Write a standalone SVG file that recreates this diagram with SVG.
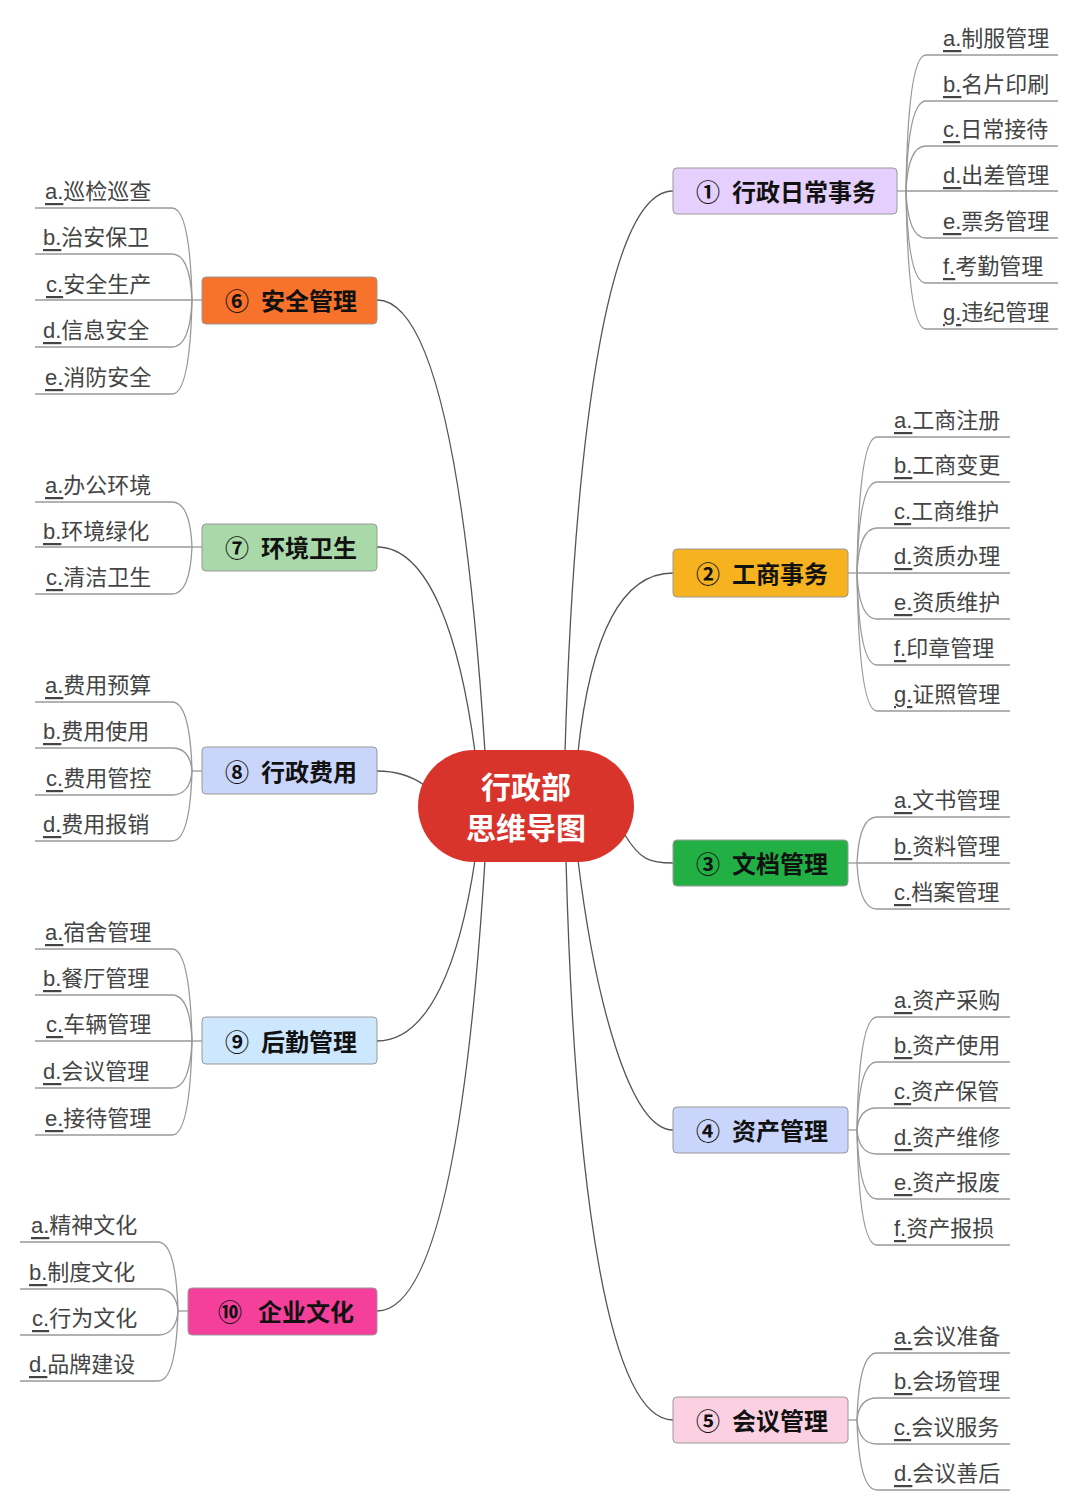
<svg xmlns="http://www.w3.org/2000/svg" width="1080" height="1509" viewBox="0 0 1080 1509">
<style>
.leaf{font-family:"Liberation Sans","Noto Sans CJK SC",sans-serif;font-size:22px;fill:#444;dominant-baseline:central}
.lt{text-decoration:underline}
.nt{font-family:"Liberation Sans","Noto Sans CJK SC",sans-serif;font-size:24px;font-weight:bold;fill:#111;text-anchor:middle;dominant-baseline:central}
.box{stroke:#999;stroke-width:1}
.c{fill:none;stroke:#555;stroke-width:1.3}
.l{fill:none;stroke:#999;stroke-width:1.3}
</style>
<rect width="1080" height="1509" fill="#fff"/>
<g id="connectors">
<path class="c" d="M565,752 C575,420 610,191 673,191"/>
<path class="c" d="M578,752 C590,640 620,573 673,573"/>
<path class="c" d="M625,835 C640,860 650,863 673,863"/>
<path class="c" d="M578,860 C595,1000 630,1130 673,1130"/>
<path class="c" d="M566,860 C575,1200 610,1420 673,1420"/>
<path class="c" d="M485,752 C470,520 440,300 377,300"/>
<path class="c" d="M475,752 C460,640 430,547 377,547"/>
<path class="c" d="M424,785 C410,775 395,771 377,771"/>
<path class="c" d="M475,860 C460,960 430,1041 377,1041"/>
<path class="c" d="M485,860 C470,1100 440,1311 377,1311"/>
<path class="l" d="M897,191 H906"/>
<path class="l" d="M906,191 Q908,55 926,55 H1058"/>
<path class="l" d="M906,191 Q908,101 926,101 H1058"/>
<path class="l" d="M906,191 Q908,146 926,146 H1058"/>
<path class="l" d="M906,191 H1058"/>
<path class="l" d="M906,191 Q908,238 926,238 H1058"/>
<path class="l" d="M906,191 Q908,283 926,283 H1058"/>
<path class="l" d="M906,191 Q908,329 926,329 H1058"/>
<path class="l" d="M848,573 H857"/>
<path class="l" d="M857,573 Q859,437 877,437 H1010"/>
<path class="l" d="M857,573 Q859,482 877,482 H1010"/>
<path class="l" d="M857,573 Q859,528 877,528 H1010"/>
<path class="l" d="M857,573 H1010"/>
<path class="l" d="M857,573 Q859,619 877,619 H1010"/>
<path class="l" d="M857,573 Q859,665 877,665 H1010"/>
<path class="l" d="M857,573 Q859,711 877,711 H1010"/>
<path class="l" d="M848,863 H857"/>
<path class="l" d="M857,863 Q859,817 877,817 H1010"/>
<path class="l" d="M857,863 H1010"/>
<path class="l" d="M857,863 Q859,909 877,909 H1010"/>
<path class="l" d="M848,1130 H857"/>
<path class="l" d="M857,1130 Q859,1017 877,1017 H1010"/>
<path class="l" d="M857,1130 Q859,1062 877,1062 H1010"/>
<path class="l" d="M857,1130 Q859,1108 877,1108 H1010"/>
<path class="l" d="M857,1130 Q859,1154 877,1154 H1010"/>
<path class="l" d="M857,1130 Q859,1199 877,1199 H1010"/>
<path class="l" d="M857,1130 Q859,1245 877,1245 H1010"/>
<path class="l" d="M848,1420 H857"/>
<path class="l" d="M857,1420 Q859,1353 877,1353 H1010"/>
<path class="l" d="M857,1420 Q859,1398 877,1398 H1010"/>
<path class="l" d="M857,1420 Q859,1444 877,1444 H1010"/>
<path class="l" d="M857,1420 Q859,1490 877,1490 H1010"/>
<path class="l" d="M202,300 H192"/>
<path class="l" d="M192,300 Q190,208 172,208 H35"/>
<path class="l" d="M192,300 Q190,254 172,254 H35"/>
<path class="l" d="M192,300 H35"/>
<path class="l" d="M192,300 Q190,347 172,347 H35"/>
<path class="l" d="M192,300 Q190,394 172,394 H35"/>
<path class="l" d="M202,547 H192"/>
<path class="l" d="M192,547 Q190,502 172,502 H35"/>
<path class="l" d="M192,547 H35"/>
<path class="l" d="M192,547 Q190,594 172,594 H35"/>
<path class="l" d="M202,771 H192"/>
<path class="l" d="M192,771 Q190,702 172,702 H35"/>
<path class="l" d="M192,771 Q190,748 172,748 H35"/>
<path class="l" d="M192,771 Q190,795 172,795 H35"/>
<path class="l" d="M192,771 Q190,841 172,841 H35"/>
<path class="l" d="M202,1041 H192"/>
<path class="l" d="M192,1041 Q190,949 172,949 H35"/>
<path class="l" d="M192,1041 Q190,995 172,995 H35"/>
<path class="l" d="M192,1041 H35"/>
<path class="l" d="M192,1041 Q190,1088 172,1088 H35"/>
<path class="l" d="M192,1041 Q190,1135 172,1135 H35"/>
<path class="l" d="M188,1311 H178"/>
<path class="l" d="M178,1311 Q176,1242 158,1242 H20"/>
<path class="l" d="M178,1311 Q176,1289 158,1289 H20"/>
<path class="l" d="M178,1311 Q176,1335 158,1335 H20"/>
<path class="l" d="M178,1311 Q176,1381 158,1381 H20"/>
</g>
<g id="center">
<rect x="418" y="750" width="216" height="112" rx="56" fill="#d9342b"/>
<text x="526" y="787" class="nt" style="fill:#fff;font-size:30px">行政部</text>
<text x="526" y="828" class="nt" style="fill:#fff;font-size:30px">思维导图</text>
</g>
<g id="n1"><rect class="box" x="673" y="168" width="224" height="46" rx="4" fill="#e5cffc"/><text class="nt" x="786" y="192">①<tspan dx="12">行政日常事务</tspan></text>
<text class="leaf" x="943" y="38"><tspan class="lt">a.</tspan>制服管理</text>
<text class="leaf" x="943" y="84"><tspan class="lt">b.</tspan>名片印刷</text>
<text class="leaf" x="943" y="129"><tspan class="lt">c.</tspan>日常接待</text>
<text class="leaf" x="943" y="175"><tspan class="lt">d.</tspan>出差管理</text>
<text class="leaf" x="943" y="221"><tspan class="lt">e.</tspan>票务管理</text>
<text class="leaf" x="943" y="266"><tspan class="lt">f.</tspan>考勤管理</text>
<text class="leaf" x="943" y="312"><tspan class="lt">g.</tspan>违纪管理</text></g>
<g id="n2"><rect class="box" x="673" y="549" width="175" height="48" rx="4" fill="#f6b21f"/><text class="nt" x="762" y="574">②<tspan dx="12">工商事务</tspan></text>
<text class="leaf" x="894" y="420"><tspan class="lt">a.</tspan>工商注册</text>
<text class="leaf" x="894" y="465"><tspan class="lt">b.</tspan>工商变更</text>
<text class="leaf" x="894" y="511"><tspan class="lt">c.</tspan>工商维护</text>
<text class="leaf" x="894" y="556"><tspan class="lt">d.</tspan>资质办理</text>
<text class="leaf" x="894" y="602"><tspan class="lt">e.</tspan>资质维护</text>
<text class="leaf" x="894" y="648"><tspan class="lt">f.</tspan>印章管理</text>
<text class="leaf" x="894" y="694"><tspan class="lt">g.</tspan>证照管理</text></g>
<g id="n3"><rect class="box" x="673" y="840" width="175" height="46" rx="4" fill="#22b044"/><text class="nt" x="762" y="864">③<tspan dx="12">文档管理</tspan></text>
<text class="leaf" x="894" y="800"><tspan class="lt">a.</tspan>文书管理</text>
<text class="leaf" x="894" y="846"><tspan class="lt">b.</tspan>资料管理</text>
<text class="leaf" x="894" y="892"><tspan class="lt">c.</tspan>档案管理</text></g>
<g id="n4"><rect class="box" x="673" y="1107" width="175" height="46" rx="4" fill="#cad5fb"/><text class="nt" x="762" y="1131">④<tspan dx="12">资产管理</tspan></text>
<text class="leaf" x="894" y="1000"><tspan class="lt">a.</tspan>资产采购</text>
<text class="leaf" x="894" y="1045"><tspan class="lt">b.</tspan>资产使用</text>
<text class="leaf" x="894" y="1091"><tspan class="lt">c.</tspan>资产保管</text>
<text class="leaf" x="894" y="1137"><tspan class="lt">d.</tspan>资产维修</text>
<text class="leaf" x="894" y="1182"><tspan class="lt">e.</tspan>资产报废</text>
<text class="leaf" x="894" y="1228"><tspan class="lt">f.</tspan>资产报损</text></g>
<g id="n5"><rect class="box" x="673" y="1397" width="175" height="46" rx="4" fill="#fbd0e1"/><text class="nt" x="762" y="1421">⑤<tspan dx="12">会议管理</tspan></text>
<text class="leaf" x="894" y="1336"><tspan class="lt">a.</tspan>会议准备</text>
<text class="leaf" x="894" y="1381"><tspan class="lt">b.</tspan>会场管理</text>
<text class="leaf" x="894" y="1427"><tspan class="lt">c.</tspan>会议服务</text>
<text class="leaf" x="894" y="1473"><tspan class="lt">d.</tspan>会议善后</text></g>
<g id="n6"><rect class="box" x="202" y="277" width="175" height="47" rx="4" fill="#f7722b"/><text class="nt" x="291" y="301">⑥<tspan dx="12">安全管理</tspan></text>
<text class="leaf" x="45" y="191"><tspan class="lt">a.</tspan>巡检巡查</text>
<text class="leaf" x="43" y="237"><tspan class="lt">b.</tspan>治安保卫</text>
<text class="leaf" x="46" y="284"><tspan class="lt">c.</tspan>安全生产</text>
<text class="leaf" x="43" y="330"><tspan class="lt">d.</tspan>信息安全</text>
<text class="leaf" x="45" y="377"><tspan class="lt">e.</tspan>消防安全</text></g>
<g id="n7"><rect class="box" x="202" y="524" width="175" height="47" rx="4" fill="#a9d9a9"/><text class="nt" x="291" y="548">⑦<tspan dx="12">环境卫生</tspan></text>
<text class="leaf" x="45" y="485"><tspan class="lt">a.</tspan>办公环境</text>
<text class="leaf" x="43" y="531"><tspan class="lt">b.</tspan>环境绿化</text>
<text class="leaf" x="46" y="577"><tspan class="lt">c.</tspan>清洁卫生</text></g>
<g id="n8"><rect class="box" x="202" y="747" width="175" height="47" rx="4" fill="#cad5fb"/><text class="nt" x="291" y="772">⑧<tspan dx="12">行政费用</tspan></text>
<text class="leaf" x="45" y="685"><tspan class="lt">a.</tspan>费用预算</text>
<text class="leaf" x="43" y="731"><tspan class="lt">b.</tspan>费用使用</text>
<text class="leaf" x="46" y="778"><tspan class="lt">c.</tspan>费用管控</text>
<text class="leaf" x="43" y="824"><tspan class="lt">d.</tspan>费用报销</text></g>
<g id="n9"><rect class="box" x="202" y="1017" width="175" height="47" rx="4" fill="#cde7ff"/><text class="nt" x="291" y="1042">⑨<tspan dx="12">后勤管理</tspan></text>
<text class="leaf" x="45" y="932"><tspan class="lt">a.</tspan>宿舍管理</text>
<text class="leaf" x="43" y="978"><tspan class="lt">b.</tspan>餐厅管理</text>
<text class="leaf" x="46" y="1024"><tspan class="lt">c.</tspan>车辆管理</text>
<text class="leaf" x="43" y="1071"><tspan class="lt">d.</tspan>会议管理</text>
<text class="leaf" x="45" y="1118"><tspan class="lt">e.</tspan>接待管理</text></g>
<g id="n10"><rect class="box" x="188" y="1288" width="189" height="47" rx="4" fill="#f5409b"/><text class="nt" x="286" y="1312">⑩<tspan dx="16">企业文化</tspan></text>
<text class="leaf" x="31" y="1225"><tspan class="lt">a.</tspan>精神文化</text>
<text class="leaf" x="29" y="1272"><tspan class="lt">b.</tspan>制度文化</text>
<text class="leaf" x="32" y="1318"><tspan class="lt">c.</tspan>行为文化</text>
<text class="leaf" x="29" y="1364"><tspan class="lt">d.</tspan>品牌建设</text></g>
</svg>
